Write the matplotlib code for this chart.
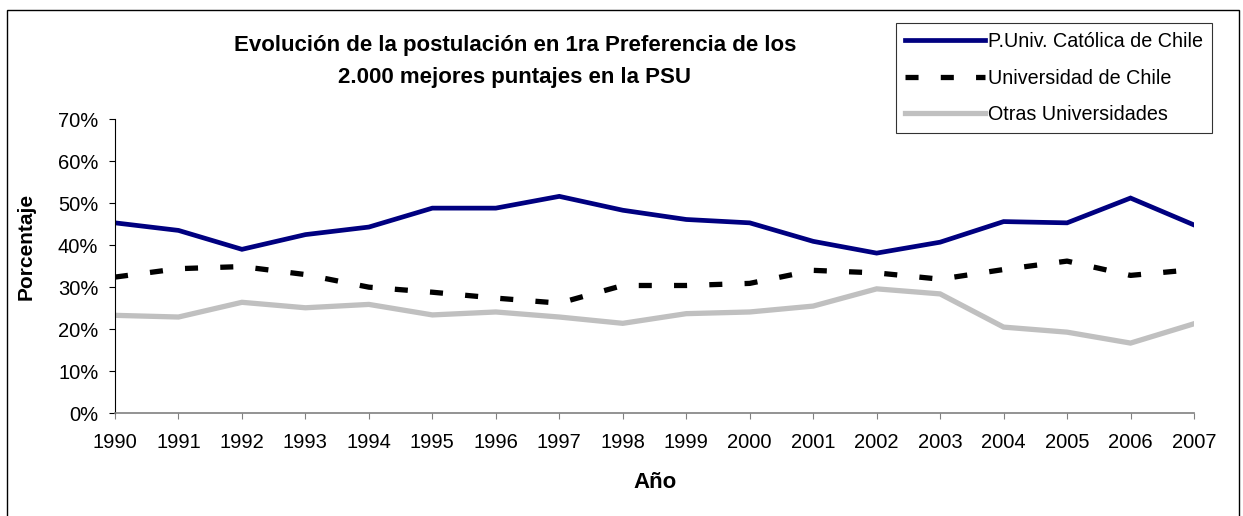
import matplotlib
matplotlib.use("Agg")
import matplotlib.pyplot as plt
from matplotlib.patches import Rectangle

plt.rcParams['font.family'] = ['Liberation Sans', 'DejaVu Sans']
plt.rcParams['lines.scale_dashes'] = False

years = list(range(1990, 2008))
catolica = [45.3, 43.5, 39.0, 42.5, 44.3, 48.8, 48.8, 51.6, 48.3,
            46.1, 45.3, 40.9, 38.1, 40.7, 45.6, 45.3, 51.2, 44.8]
uchile = [32.4, 34.4, 34.9, 33.0, 30.0, 28.8, 27.4, 26.2, 30.4,
          30.4, 30.9, 34.0, 33.4, 31.9, 34.2, 36.2, 32.8, 34.2]
otras = [23.3, 22.9, 26.4, 25.1, 25.9, 23.4, 24.1, 22.9, 21.4,
         23.7, 24.1, 25.5, 29.6, 28.4, 20.5, 19.3, 16.7, 21.3]
series_names = ["P.Univ. Católica de Chile", "Universidad de Chile", "Otras Universidades"]
yticks = [0, 10, 20, 30, 40, 50, 60, 70]
title_lines = ["Evolución de la postulación en 1ra Preferencia de los",
               "2.000 mejores puntajes en la PSU"]

W, H = 1243, 516
fig = plt.figure(figsize=(W / 100, H / 100), dpi=100)
fig.patch.set_facecolor('white')

FS = 14.5
ax = fig.add_axes([115 / W, 1 - 413.3 / H, (1194 - 115) / W, (413.3 - 119) / H])
ax.plot(years, catolica, color='#000080', lw=3.4, solid_joinstyle='miter', label=series_names[0])
ax.plot(years, uchile, color='black', lw=3.8, dashes=(9.4, 16.0), dash_capstyle='butt',
        label=series_names[1])
ax.plot(years, otras, color='#C0C0C0', lw=3.8, solid_joinstyle='miter', label=series_names[2])

ax.set_xlim(1990, 2007)
ax.set_ylim(0, 70)
ax.set_xticks(years)
ax.set_xticklabels([str(y) for y in years])
ax.set_yticks(yticks)
ax.set_yticklabels(["%d%%" % v for v in yticks])
ax.tick_params(axis='both', labelsize=FS, length=4, width=0.8, direction='out')
ax.tick_params(axis='y', pad=8, colors='black')
ax.tick_params(axis='x', pad=10, color='#808080')
for s in ['top', 'right']:
    ax.spines[s].set_visible(False)
ax.spines['left'].set_color('black')
ax.spines['left'].set_linewidth(0.8)
ax.spines['bottom'].set_color('#808080')
ax.spines['bottom'].set_linewidth(1.2)

fig.text(515 / W, 1 - 46 / H, title_lines[0], ha='center', va='center',
         fontsize=16, fontweight='bold')
fig.text(515 / W, 1 - 78 / H, title_lines[1], ha='center', va='center',
         fontsize=16, fontweight='bold')
fig.text(26 / W, 1 - 246 / H, "Porcentaje", rotation=90, ha='center', va='center',
         fontsize=15, fontweight='bold')
fig.text(655 / W, 1 - 482 / H, "Año", ha='center', va='center',
         fontsize=16, fontweight='bold')

leg = fig.legend(loc='upper left', bbox_to_anchor=(896 / W, 1 - 23 / H),
                 fontsize=14.2, frameon=True, fancybox=False, shadow=False,
                 handlelength=4.05, handletextpad=0.18, labelspacing=0.9,
                 borderpad=0.45, borderaxespad=0, handleheight=0.7)
leg.get_frame().set_edgecolor('black')
leg.get_frame().set_linewidth(0.8)

fig.patches.append(Rectangle((7 / W, -0.05), (1239 - 7) / W, 1.05 - 10 / H,
                             transform=fig.transFigure, fill=False,
                             edgecolor='black', lw=1.0))

fig.savefig('out.png', dpi=100, facecolor='white')
